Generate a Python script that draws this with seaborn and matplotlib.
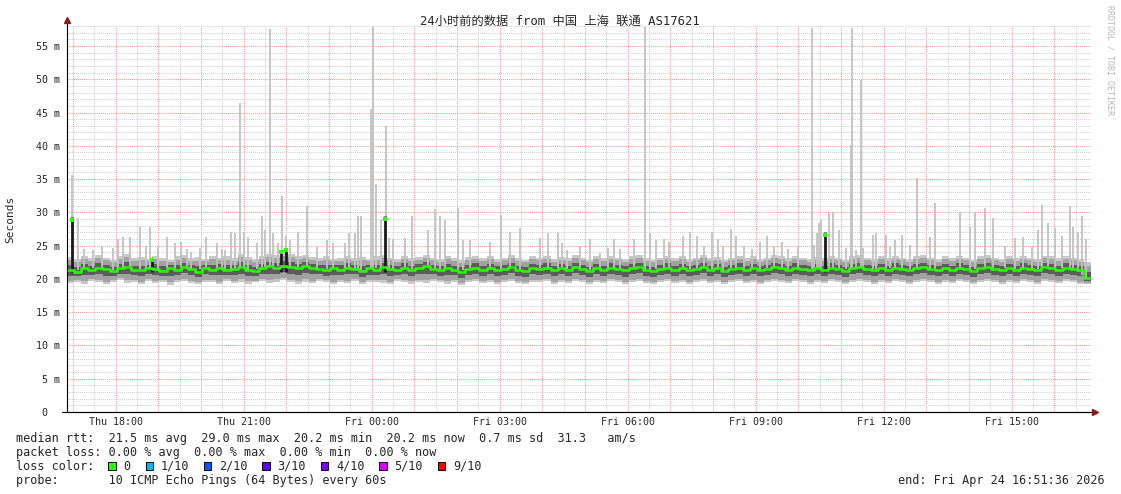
import numpy as np
import pandas as pd
import matplotlib
matplotlib.use('Agg')
import matplotlib.pyplot as plt
import matplotlib.dates as mdates
from matplotlib.ticker import MultipleLocator, FuncFormatter
from matplotlib.patches import Rectangle
import seaborn as sns

# --- data ---
start = pd.Timestamp('2026-04-23 16:51:36')
end = pd.Timestamp('2026-04-24 16:51:36')
step_min = 10

# median rtt every 10 minutes (ms)
median_ms = [21.4, 21.1, 21.6, 21.3, 21.7, 21.5, 21.2, 21.6, 21.8, 21.4, 21.3, 21.7,
             21.5, 21.2, 21.6, 21.4, 21.8, 21.5, 21.1, 21.6, 21.4, 21.7, 21.3, 21.5,
             21.8, 21.4, 21.2, 21.6, 21.9, 21.7, 22.0, 21.8, 21.6, 21.9, 21.7, 21.5,
             21.3, 21.6, 21.4, 21.7, 21.5, 21.2, 21.6, 21.4, 21.8, 21.5, 21.3, 21.7,
             21.4, 21.6, 21.9, 21.5, 21.3, 21.6, 21.4, 21.1, 21.5, 21.7, 21.4, 21.6,
             21.3, 21.5, 21.8, 21.4, 21.2, 21.6, 21.5, 21.7, 21.3, 21.6, 21.4, 21.8,
             21.5, 21.2, 21.6, 21.4, 21.7, 21.5, 21.3, 21.6, 21.8, 21.4, 21.2, 21.5,
             21.7, 21.4, 21.6, 21.3, 21.5, 21.8, 21.4, 21.6, 21.2, 21.5, 21.7, 21.4,
             21.6, 21.3, 21.5, 21.8, 21.6, 21.4, 21.7, 21.5, 21.3, 21.6, 21.4, 21.7,
             21.5, 21.2, 21.6, 21.8, 21.5, 21.3, 21.6, 21.4, 21.7, 21.5, 21.3, 21.6,
             21.8, 21.5, 21.3, 21.6, 21.4, 21.7, 21.5, 21.2, 21.6, 21.8, 21.5, 21.3,
             21.6, 21.4, 21.7, 21.5, 21.3, 21.8, 21.6, 21.4, 21.7, 21.5, 21.3, 20.2]

# lowest / highest ping of the smoke every 10 minutes (ms)
ping_lo_ms = [19.4, 19.6, 19.3, 19.7, 19.5, 19.2, 19.6, 19.8, 19.4, 19.5, 19.3, 19.7,
              19.4, 19.6, 19.1, 19.5, 19.7, 19.4, 19.3, 19.6, 19.5, 19.2, 19.7, 19.4,
              19.6, 19.3, 19.5, 19.7, 19.4, 19.6, 19.8, 19.5, 19.3, 19.6, 19.4, 19.7,
              19.5, 19.2, 19.6, 19.4, 19.7, 19.3, 19.5, 19.6, 19.4, 19.2, 19.7, 19.5,
              19.3, 19.6, 19.4, 19.7, 19.5, 19.3, 19.6, 19.1, 19.5, 19.7, 19.4, 19.6,
              19.3, 19.5, 19.7, 19.4, 19.2, 19.6, 19.5, 19.7, 19.3, 19.6, 19.4, 19.7,
              19.5, 19.3, 19.6, 19.4, 19.7, 19.5, 19.2, 19.6, 19.7, 19.4, 19.3, 19.5,
              19.7, 19.4, 19.6, 19.3, 19.5, 19.7, 19.4, 19.6, 19.2, 19.5, 19.7, 19.4,
              19.6, 19.3, 19.5, 19.7, 19.6, 19.4, 19.7, 19.5, 19.3, 19.6, 19.4, 19.7,
              19.5, 19.2, 19.6, 19.7, 19.5, 19.3, 19.6, 19.4, 19.7, 19.5, 19.3, 19.6,
              19.7, 19.5, 19.3, 19.6, 19.4, 19.7, 19.5, 19.2, 19.6, 19.7, 19.5, 19.3,
              19.6, 19.4, 19.7, 19.5, 19.3, 19.7, 19.6, 19.4, 19.7, 19.5, 19.3, 19.2]
ping_hi_ms = [23.3, 23.0, 23.5, 23.1, 23.6, 23.2, 22.9, 23.4, 23.7, 23.1, 23.3, 23.0,
              23.5, 23.2, 22.9, 23.4, 23.6, 23.1, 23.3, 23.0, 23.5, 23.2, 23.4, 23.1,
              23.7, 23.3, 23.0, 23.5, 23.8, 23.6, 23.9, 23.7, 23.4, 23.6, 23.3, 23.1,
              23.4, 23.0, 23.2, 23.5, 23.1, 23.3, 23.0, 23.4, 23.6, 23.2, 23.0, 23.5,
              23.1, 23.3, 23.6, 23.2, 23.0, 23.4, 23.1, 22.9, 23.3, 23.5, 23.1, 23.4,
              23.0, 23.2, 23.6, 23.1, 22.9, 23.4, 23.2, 23.5, 23.0, 23.3, 23.1, 23.6,
              23.2, 22.9, 23.4, 23.1, 23.5, 23.2, 23.0, 23.4, 23.6, 23.1, 22.9, 23.2,
              23.5, 23.1, 23.4, 23.0, 23.2, 23.6, 23.1, 23.3, 22.9, 23.2, 23.5, 23.1,
              23.4, 23.0, 23.2, 23.6, 23.4, 23.1, 23.5, 23.2, 23.0, 23.3, 23.1, 23.5,
              23.2, 22.9, 23.4, 23.6, 23.2, 23.0, 23.4, 23.1, 23.5, 23.2, 23.0, 23.4,
              23.6, 23.2, 23.0, 23.4, 23.1, 23.5, 23.2, 22.9, 23.4, 23.6, 23.2, 23.0,
              23.4, 23.1, 23.5, 23.2, 23.0, 23.5, 23.4, 23.1, 23.5, 23.2, 23.0, 22.6]

# slowest single pings: (minutes after start, ms)
spikes = [(7, 35.6), (15, 29.1), (24, 24.5), (37, 24.3), (49, 24.8), (65, 24.6),
          (72, 26.0), (79, 26.3), (89, 26.3), (103, 27.8), (111, 25.0), (117, 27.8),
          (128, 24.8), (140, 26.3), (152, 25.4), (161, 25.6), (169, 24.5), (175, 24.1),
          (187, 24.6), (196, 26.3), (211, 25.4), (218, 24.5), (222, 24.3), (231, 27.0),
          (236, 26.9), (243, 46.5), (249, 27.0), (255, 26.3), (267, 25.4), (274, 29.4),
          (278, 27.3), (285, 57.6), (290, 26.9), (297, 25.4), (303, 32.5), (308, 26.5),
          (314, 25.8), (325, 27.1), (337, 30.9), (351, 24.8), (365, 25.8), (374, 25.4),
          (391, 25.4), (396, 26.9), (405, 26.9), (409, 29.4), (414, 29.4), (428, 45.5),
          (430, 57.8), (435, 34.3), (442, 29.0), (449, 43.0), (453, 26.1), (458, 26.0),
          (475, 26.1), (485, 29.4), (508, 27.3), (517, 30.5), (525, 29.4), (532, 28.9),
          (550, 30.6), (557, 25.8), (567, 25.8), (595, 25.6), (611, 29.6), (623, 27.1),
          (637, 27.6), (665, 26.1), (677, 26.9), (690, 26.9), (696, 25.4), (703, 24.3),
          (721, 25.0), (735, 26.0), (750, 23.9), (761, 24.6), (769, 26.0), (778, 24.5),
          (797, 26.0), (813, 57.8), (820, 26.9), (828, 25.8), (840, 26.0), (847, 25.5),
          (866, 26.5), (876, 27.0), (886, 26.5), (896, 25.0), (907, 27.0), (915, 26.0),
          (922, 25.0), (934, 27.5), (941, 26.5), (952, 25.0), (963, 24.5), (975, 25.5),
          (984, 26.5), (994, 25.0), (1005, 25.6), (1014, 24.5), (1028, 24.8), (1047, 57.7),
          (1050, 25.1), (1054, 26.9), (1058, 28.4), (1061, 28.9), (1071, 29.9), (1077, 30.1),
          (1086, 27.3), (1096, 24.6), (1102, 40.1), (1104, 57.7), (1110, 24.3), (1116, 49.9),
          (1119, 24.6), (1134, 26.6), (1138, 26.9), (1152, 26.6), (1157, 24.8), (1164, 25.8),
          (1174, 26.6), (1185, 25.1), (1195, 35.2), (1214, 26.3), (1221, 31.4), (1256, 30.1),
          (1270, 27.8), (1277, 30.1), (1291, 30.6), (1302, 29.1), (1319, 25.0), (1333, 26.1),
          (1344, 26.3), (1357, 24.8), (1365, 27.3), (1371, 31.1), (1380, 28.4), (1389, 27.6),
          (1399, 26.5), (1410, 31.0), (1414, 27.8), (1422, 27.1), (1427, 29.4), (1433, 26.0)]

# short bursts where the median itself went up: (minutes after start, top ms, median ms)
bursts = [(7, 29.3, 28.9), (120, 23.2, 22.9), (301, 24.2, 24.0), (308, 24.6, 24.4),
          (447, 29.5, 29.0), (1066, 27.0, 26.6)]

title = '24小时前的数据 from 中国 上海 联通 AS17621'
stats_rtt = 'median rtt:  21.5 ms avg  29.0 ms max  20.2 ms min  20.2 ms now  0.7 ms sd  31.3   am/s'
stats_loss = 'packet loss: 0.00 % avg  0.00 % max  0.00 % min  0.00 % now'
probe_text = 'probe:       10 ICMP Echo Pings (64 Bytes) every 60s'
end_text = 'end: Fri Apr 24 16:51:36 2026'
loss_labels = ['0', '1/10', '2/10', '3/10', '4/10', '5/10', '9/10']
loss_colors = ['#26ff00', '#00b8ff', '#0059ff', '#5e00ff', '#7e00ff', '#dd00ff', '#ff0000']

W, H = 1121, 494
green = '#26ff00'

sns.set_style('white')
plt.rcParams['font.family'] = ['DejaVu Sans Mono', 'Noto Sans CJK SC']


def step_series(values):
    t = start + pd.to_timedelta(np.arange(len(values)) * step_min, unit='min')
    t = list(t) + [end]
    v = np.asarray(list(values) + [values[-1]], dtype=float)
    return t, v


def fpos(x, y):
    return x / W, 1 - y / H


fig = plt.figure(figsize=(W / 100, H / 100), dpi=100)
ax = fig.add_axes([67 / W, (H - 412) / H, 1024 / W, 386 / H])

t_med, med = step_series(median_ms)
t_lo, lo = step_series(ping_lo_ms)
t_hi, hi = step_series(ping_hi_ms)

# smoke, outer layer
ax.fill_between(t_lo, lo, hi, step='post', color='#c8c8c8', lw=0)

# single slow pings
sp_t = [start + pd.Timedelta(minutes=m) for m, _ in spikes]
sp_v = [v for _, v in spikes]
sp_base = np.interp([m for m, _ in spikes], np.arange(len(median_ms)) * step_min, median_ms)
ax.vlines(sp_t, sp_base, sp_v, color='#c2c2c2', lw=1.3)

# smoke, inner layers (weighted towards the median)
ax.fill_between(t_lo, 0.85 * lo + 0.15 * med, 0.75 * hi + 0.25 * med, step='post', color='#a2a2a2', lw=0)
ax.fill_between(t_lo, 0.45 * lo + 0.55 * med, 0.35 * hi + 0.65 * med, step='post', color='#5c5c5c', lw=0)

# bursts
b_t = [start + pd.Timedelta(minutes=m) for m, _, _ in bursts]
b_top = [b for _, b, _ in bursts]
b_med = [c for _, _, c in bursts]
ax.vlines(b_t, 21.0, b_top, color='#1a1a1a', lw=2.0)

# median line
sns.lineplot(x=t_med, y=med, drawstyle='steps-post', color=green, lw=1.8, ax=ax)
sns.scatterplot(x=b_t, y=b_med, marker='s', s=7, color=green, linewidth=0, ax=ax, zorder=5)

# axes
ax.set_xlim(start, end)
ax.set_ylim(0, 58)
ax.set_xlabel('')
ax.set_ylabel('')

ax.xaxis.set_major_locator(mdates.HourLocator(interval=1))
ax.xaxis.set_minor_locator(mdates.MinuteLocator(byminute=[30]))


def fmt_x(v, pos):
    d = mdates.num2date(v)
    return d.strftime('%a %H:%M') if d.hour % 3 == 0 else ''


ax.xaxis.set_major_formatter(FuncFormatter(fmt_x))
ax.yaxis.set_major_locator(MultipleLocator(5))
ax.yaxis.set_minor_locator(MultipleLocator(1))
ax.yaxis.set_major_formatter(FuncFormatter(lambda v, p: '0  ' if v == 0 else f'{v:.0f} m'))

ax.set_axisbelow(True)
ax.grid(which='major', color='#f09a9a', ls=(0, (1, 1)), lw=0.75)
ax.grid(which='minor', color='#d0d0d0', ls=(0, (1, 1)), lw=0.75)

ax.tick_params(axis='x', which='both', length=0, pad=3.5, labelsize=7.2)
ax.tick_params(axis='y', which='major', length=2.2, pad=2.9, labelsize=7.2, color='#404040')
ax.tick_params(axis='y', which='minor', length=2.2, color='#b0b0b0')

for s in ['top', 'right']:
    ax.spines[s].set_visible(False)
for s in ['left', 'bottom']:
    ax.spines[s].set_color('black')
    ax.spines[s].set_linewidth(0.8)

# axis extensions and arrow heads
ax.plot([-5 / 1024, 1 + 4 / 1024], [0, 0], transform=ax.transAxes, color='black', lw=0.8, clip_on=False)
ax.plot([0, 0], [1, 1 + 4 / 386], transform=ax.transAxes, color='black', lw=0.8, clip_on=False)
ax.plot([1 + 4 / 1024], [0], marker='>', ms=4, color='#8b1a1a', transform=ax.transAxes, clip_on=False)
ax.plot([0], [1 + 6 / 386], marker='^', ms=4, color='#8b1a1a', transform=ax.transAxes, clip_on=False)

# texts
fig.text(*fpos(560, 21), title, ha='center', va='center', fontsize=8.8)
fig.text(*fpos(10, 219), 'Seconds', rotation=90, ha='center', va='center', fontsize=8)
fig.text(*fpos(1110, 5), 'RRDTOOL / TOBI OETIKER', rotation=270, ha='center', va='top',
         fontsize=6, color='#b8b8b8')

fs = 8.5
cw = 7.12
fig.text(*fpos(16, 438), stats_rtt, ha='left', va='center', fontsize=fs)
fig.text(*fpos(16, 452), stats_loss, ha='left', va='center', fontsize=fs)
fig.text(*fpos(16, 466), 'loss color:', ha='left', va='center', fontsize=fs)
fig.text(*fpos(16, 480), probe_text, ha='left', va='center', fontsize=fs)
fig.text(*fpos(1105, 480), end_text, ha='right', va='center', fontsize=fs)

x = 108.4
for lab, col in zip(loss_labels, loss_colors):
    fig.add_artist(Rectangle(fpos(x, 470), 7.2 / W, 8 / H, transform=fig.transFigure,
                             facecolor=col, edgecolor='black', lw=0.7))
    lx = x + 15
    fig.text(*fpos(lx, 466), lab, ha='left', va='center', fontsize=fs)
    x = lx + len(lab) * cw + 15

fig.savefig('out.png', dpi=100)
